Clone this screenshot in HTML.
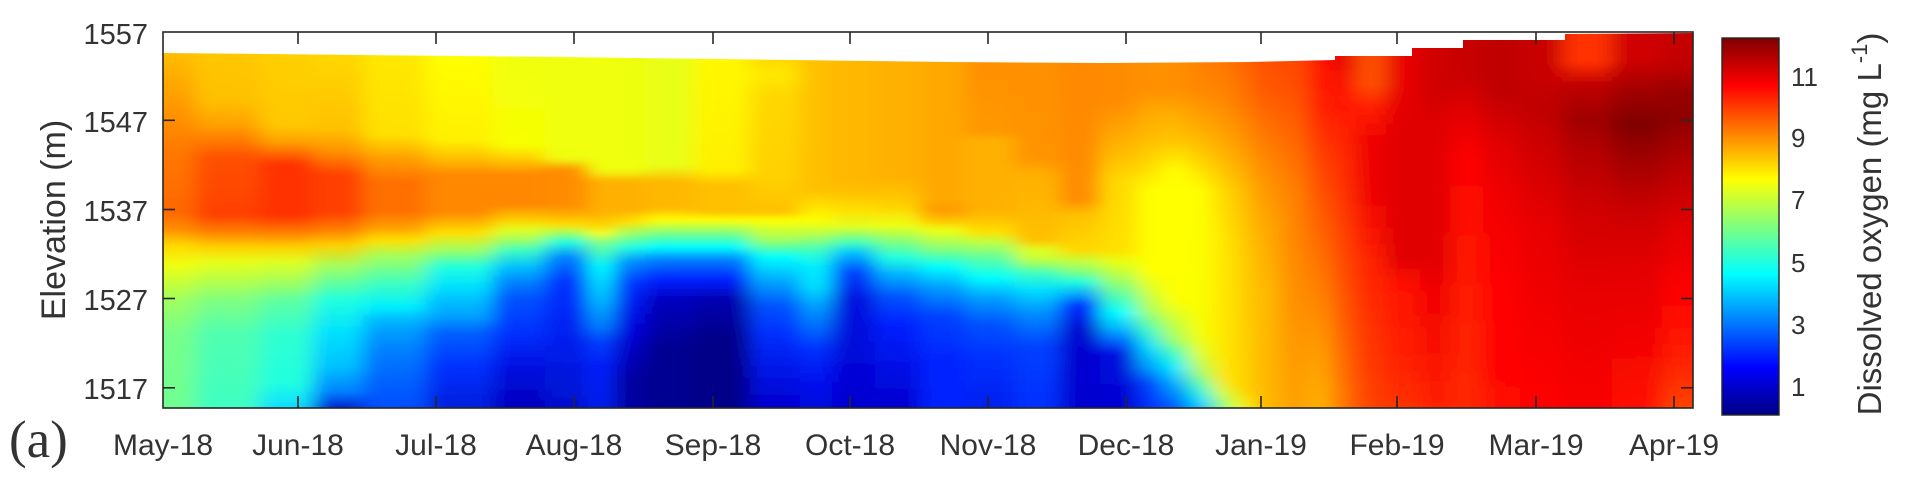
<!DOCTYPE html>
<html><head><meta charset="utf-8"><style>
html,body{margin:0;padding:0;background:#fff;}
svg{display:block;}
text{font-family:"Liberation Sans",Arial,sans-serif;fill:#333;}
</style></head><body>
<svg width="1919" height="500" viewBox="0 0 1919 500" xmlns="http://www.w3.org/2000/svg">
<defs>
<filter id="bl" filterUnits="userSpaceOnUse" x="80" y="-20" width="1700" height="480"><feGaussianBlur stdDeviation="10 2"/></filter>
<clipPath id="cp"><path d="M163,53 L560,57 L950,62 L1100,63 L1250,62 L1335,60 L1335,56 L1412,56 L1412,48 L1463,48 L1463,40 L1565,40 L1565,34 L1693,33 L1693,408 L163,408 Z"/></clipPath>
<linearGradient id="cb" x1="0" y1="0" x2="0" y2="1"><stop offset="0" stop-color="#800000"/><stop offset=".125" stop-color="#ff0000"/><stop offset=".375" stop-color="#ffff00"/><stop offset=".625" stop-color="#00ffff"/><stop offset=".875" stop-color="#0000ff"/><stop offset="1" stop-color="#000084"/></linearGradient>
<linearGradient id="g1" gradientUnits="userSpaceOnUse" x1="0" y1="0" x2="0" y2="1000"><stop offset=".050" stop-color="#ffc000"/><stop offset=".105" stop-color="#ff9800"/><stop offset=".152" stop-color="#ff7800"/><stop offset=".212" stop-color="#ff6800"/><stop offset=".230" stop-color="#ff9000"/><stop offset=".245" stop-color="#ffd800"/><stop offset=".265" stop-color="#f0ff10"/><stop offset=".300" stop-color="#a0ff60"/><stop offset=".333" stop-color="#78ff88"/><stop offset=".400" stop-color="#70ff90"/></linearGradient>
<linearGradient id="g2" gradientUnits="userSpaceOnUse" x1="0" y1="0" x2="0" y2="1000"><stop offset=".050" stop-color="#ffc800"/><stop offset=".100" stop-color="#ffc000"/><stop offset=".125" stop-color="#ffa000"/><stop offset=".158" stop-color="#ff5000"/><stop offset=".215" stop-color="#ff4000"/><stop offset=".232" stop-color="#ff8000"/><stop offset=".247" stop-color="#ffd000"/><stop offset=".262" stop-color="#e8ff18"/><stop offset=".283" stop-color="#b0ff50"/><stop offset=".300" stop-color="#80ff80"/><stop offset=".333" stop-color="#50ffb0"/><stop offset=".400" stop-color="#40ffc0"/></linearGradient>
<linearGradient id="g3" gradientUnits="userSpaceOnUse" x1="0" y1="0" x2="0" y2="1000"><stop offset=".050" stop-color="#ffd000"/><stop offset=".125" stop-color="#ffc800"/><stop offset=".142" stop-color="#ffa000"/><stop offset=".165" stop-color="#ff3000"/><stop offset=".215" stop-color="#ff3000"/><stop offset=".233" stop-color="#ff8000"/><stop offset=".247" stop-color="#ffd000"/><stop offset=".262" stop-color="#e0ff20"/><stop offset=".283" stop-color="#a0ff60"/><stop offset=".300" stop-color="#60ffa0"/><stop offset=".333" stop-color="#30ffd0"/><stop offset=".383" stop-color="#20ffe0"/><stop offset=".405" stop-color="#10e0ff"/></linearGradient>
<linearGradient id="g4" gradientUnits="userSpaceOnUse" x1="0" y1="0" x2="0" y2="1000"><stop offset=".050" stop-color="#ffd800"/><stop offset=".130" stop-color="#ffc000"/><stop offset=".152" stop-color="#ff9000"/><stop offset=".175" stop-color="#ff4000"/><stop offset=".212" stop-color="#ff4000"/><stop offset=".230" stop-color="#ff8000"/><stop offset=".245" stop-color="#ffd000"/><stop offset=".267" stop-color="#a0ff60"/><stop offset=".300" stop-color="#20ffe0"/><stop offset=".333" stop-color="#00e0ff"/><stop offset=".367" stop-color="#00c0ff"/><stop offset=".392" stop-color="#0080ff"/><stop offset=".408" stop-color="#0020d0"/></linearGradient>
<linearGradient id="g5" gradientUnits="userSpaceOnUse" x1="0" y1="0" x2="0" y2="1000"><stop offset=".052" stop-color="#ffe800"/><stop offset=".135" stop-color="#ffe000"/><stop offset=".158" stop-color="#ffa000"/><stop offset=".182" stop-color="#ff7000"/><stop offset=".212" stop-color="#ff7000"/><stop offset=".228" stop-color="#ffa000"/><stop offset=".240" stop-color="#ffe000"/><stop offset=".257" stop-color="#a0ff60"/><stop offset=".283" stop-color="#40ffc0"/><stop offset=".307" stop-color="#00f0ff"/><stop offset=".318" stop-color="#00c0ff"/><stop offset=".330" stop-color="#00a0ff"/><stop offset=".350" stop-color="#0080ff"/><stop offset=".383" stop-color="#0060ff"/><stop offset=".405" stop-color="#0050ff"/></linearGradient>
<linearGradient id="g6" gradientUnits="userSpaceOnUse" x1="0" y1="0" x2="0" y2="1000"><stop offset=".053" stop-color="#ffff00"/><stop offset=".140" stop-color="#fff000"/><stop offset=".158" stop-color="#ffc000"/><stop offset=".175" stop-color="#ff8800"/><stop offset=".212" stop-color="#ff8800"/><stop offset=".233" stop-color="#ffe000"/><stop offset=".250" stop-color="#a0ff60"/><stop offset=".267" stop-color="#20ffe0"/><stop offset=".287" stop-color="#00e0ff"/><stop offset=".300" stop-color="#00c0ff"/><stop offset=".317" stop-color="#00a0ff"/><stop offset=".333" stop-color="#0060ff"/><stop offset=".367" stop-color="#0030ff"/><stop offset=".405" stop-color="#0020e0"/></linearGradient>
<linearGradient id="g7" gradientUnits="userSpaceOnUse" x1="0" y1="0" x2="0" y2="1000"><stop offset=".055" stop-color="#f0ff10"/><stop offset=".145" stop-color="#f8ff00"/><stop offset=".158" stop-color="#ffd000"/><stop offset=".175" stop-color="#ff8800"/><stop offset=".205" stop-color="#ff8800"/><stop offset=".220" stop-color="#ffd000"/><stop offset=".230" stop-color="#e0ff20"/><stop offset=".240" stop-color="#a0ff60"/><stop offset=".250" stop-color="#40ffc0"/><stop offset=".267" stop-color="#00c0ff"/><stop offset=".283" stop-color="#0080ff"/><stop offset=".300" stop-color="#0050ff"/><stop offset=".333" stop-color="#0030ff"/><stop offset=".367" stop-color="#0010e0"/><stop offset=".405" stop-color="#0000c0"/></linearGradient>
<linearGradient id="g8" gradientUnits="userSpaceOnUse" x1="0" y1="0" x2="0" y2="1000"><stop offset=".056" stop-color="#f0ff10"/><stop offset=".158" stop-color="#f0ff10"/><stop offset=".170" stop-color="#ff8c00"/><stop offset=".205" stop-color="#ff8c00"/><stop offset=".215" stop-color="#ffb000"/><stop offset=".225" stop-color="#ffe000"/><stop offset=".233" stop-color="#a0ff60"/><stop offset=".242" stop-color="#20ffe0"/><stop offset=".258" stop-color="#0080ff"/><stop offset=".283" stop-color="#0030ff"/><stop offset=".333" stop-color="#0020f0"/><stop offset=".405" stop-color="#0010d0"/></linearGradient>
<linearGradient id="g9" gradientUnits="userSpaceOnUse" x1="0" y1="0" x2="0" y2="1000"><stop offset=".057" stop-color="#f0ff10"/><stop offset=".170" stop-color="#f0ff10"/><stop offset=".182" stop-color="#ffb000"/><stop offset=".212" stop-color="#ffb000"/><stop offset=".225" stop-color="#ffd000"/><stop offset=".233" stop-color="#ffff00"/><stop offset=".243" stop-color="#80ff80"/><stop offset=".267" stop-color="#00ffff"/><stop offset=".300" stop-color="#00c0ff"/><stop offset=".327" stop-color="#0080ff"/><stop offset=".343" stop-color="#0040ff"/><stop offset=".367" stop-color="#0020ff"/><stop offset=".405" stop-color="#0020f0"/></linearGradient>
<linearGradient id="g10" gradientUnits="userSpaceOnUse" x1="0" y1="0" x2="0" y2="1000"><stop offset=".057" stop-color="#f0ff10"/><stop offset=".170" stop-color="#f0ff10"/><stop offset=".182" stop-color="#ffb000"/><stop offset=".210" stop-color="#ffb000"/><stop offset=".222" stop-color="#ffe000"/><stop offset=".233" stop-color="#a0ff60"/><stop offset=".247" stop-color="#20ffe0"/><stop offset=".262" stop-color="#0090ff"/><stop offset=".285" stop-color="#0030ff"/><stop offset=".330" stop-color="#0000e0"/><stop offset=".380" stop-color="#0000a0"/></linearGradient>
<linearGradient id="g11" gradientUnits="userSpaceOnUse" x1="0" y1="0" x2="0" y2="1000"><stop offset=".058" stop-color="#e8ff18"/><stop offset=".165" stop-color="#e8ff18"/><stop offset=".182" stop-color="#ffb800"/><stop offset=".208" stop-color="#ffb800"/><stop offset=".220" stop-color="#ffff00"/><stop offset=".233" stop-color="#80ff80"/><stop offset=".247" stop-color="#00ffff"/><stop offset=".260" stop-color="#0080ff"/><stop offset=".280" stop-color="#0020ff"/><stop offset=".300" stop-color="#0000c0"/><stop offset=".350" stop-color="#000090"/></linearGradient>
<linearGradient id="g12" gradientUnits="userSpaceOnUse" x1="0" y1="0" x2="0" y2="1000"><stop offset=".059" stop-color="#fff800"/><stop offset=".170" stop-color="#fff000"/><stop offset=".185" stop-color="#ffc000"/><stop offset=".212" stop-color="#ffc000"/><stop offset=".220" stop-color="#ffff00"/><stop offset=".233" stop-color="#80ff80"/><stop offset=".247" stop-color="#00ffff"/><stop offset=".260" stop-color="#0080ff"/><stop offset=".280" stop-color="#0020ff"/><stop offset=".300" stop-color="#0000b0"/><stop offset=".340" stop-color="#000088"/></linearGradient>
<linearGradient id="g13" gradientUnits="userSpaceOnUse" x1="0" y1="0" x2="0" y2="1000"><stop offset=".059" stop-color="#ffd800"/><stop offset=".075" stop-color="#ffe800"/><stop offset=".095" stop-color="#ffd800"/><stop offset=".180" stop-color="#ffd000"/><stop offset=".212" stop-color="#ffc000"/><stop offset=".220" stop-color="#ffff00"/><stop offset=".240" stop-color="#a0ff60"/><stop offset=".257" stop-color="#00ffff"/><stop offset=".283" stop-color="#00a0ff"/><stop offset=".307" stop-color="#0050ff"/><stop offset=".333" stop-color="#0030ff"/><stop offset=".380" stop-color="#0010e0"/><stop offset=".405" stop-color="#0000d0"/></linearGradient>
<linearGradient id="g14" gradientUnits="userSpaceOnUse" x1="0" y1="0" x2="0" y2="1000"><stop offset=".060" stop-color="#ffc000"/><stop offset=".190" stop-color="#ffc000"/><stop offset=".205" stop-color="#ffe000"/><stop offset=".220" stop-color="#ffff00"/><stop offset=".233" stop-color="#c0ff40"/><stop offset=".250" stop-color="#40ffc0"/><stop offset=".267" stop-color="#00f0ff"/><stop offset=".287" stop-color="#00e0ff"/><stop offset=".307" stop-color="#00a0ff"/><stop offset=".333" stop-color="#0060ff"/><stop offset=".350" stop-color="#0030ff"/><stop offset=".383" stop-color="#0010f0"/><stop offset=".405" stop-color="#0010e0"/></linearGradient>
<linearGradient id="g15" gradientUnits="userSpaceOnUse" x1="0" y1="0" x2="0" y2="1000"><stop offset=".060" stop-color="#ffb800"/><stop offset=".180" stop-color="#ffb800"/><stop offset=".192" stop-color="#ffc000"/><stop offset=".210" stop-color="#ffe000"/><stop offset=".227" stop-color="#e0ff20"/><stop offset=".243" stop-color="#40ffc0"/><stop offset=".253" stop-color="#00c0ff"/><stop offset=".273" stop-color="#0040ff"/><stop offset=".300" stop-color="#0010e0"/><stop offset=".405" stop-color="#0000d0"/></linearGradient>
<linearGradient id="g16" gradientUnits="userSpaceOnUse" x1="0" y1="0" x2="0" y2="1000"><stop offset=".061" stop-color="#ffb000"/><stop offset=".175" stop-color="#ffb000"/><stop offset=".192" stop-color="#ffc000"/><stop offset=".205" stop-color="#ffd000"/><stop offset=".225" stop-color="#f0ff10"/><stop offset=".242" stop-color="#80ff80"/><stop offset=".258" stop-color="#20ffe0"/><stop offset=".275" stop-color="#00b0ff"/><stop offset=".298" stop-color="#0050ff"/><stop offset=".325" stop-color="#0020ff"/><stop offset=".405" stop-color="#0000d0"/></linearGradient>
<linearGradient id="g17" gradientUnits="userSpaceOnUse" x1="0" y1="0" x2="0" y2="1000"><stop offset=".062" stop-color="#ffa800"/><stop offset=".200" stop-color="#ffa800"/><stop offset=".210" stop-color="#ff9800"/><stop offset=".220" stop-color="#ffc000"/><stop offset=".230" stop-color="#f0ff10"/><stop offset=".250" stop-color="#80ff80"/><stop offset=".267" stop-color="#00ffff"/><stop offset=".287" stop-color="#00a0ff"/><stop offset=".317" stop-color="#0040ff"/><stop offset=".367" stop-color="#0020ff"/><stop offset=".405" stop-color="#0020ff"/></linearGradient>
<linearGradient id="g18" gradientUnits="userSpaceOnUse" x1="0" y1="0" x2="0" y2="1000"><stop offset=".062" stop-color="#ff9000"/><stop offset=".132" stop-color="#ff9800"/><stop offset=".140" stop-color="#ffb000"/><stop offset=".208" stop-color="#ffb000"/><stop offset=".218" stop-color="#ffc000"/><stop offset=".232" stop-color="#ffe000"/><stop offset=".242" stop-color="#c0ff40"/><stop offset=".258" stop-color="#60ffa0"/><stop offset=".278" stop-color="#00ffff"/><stop offset=".298" stop-color="#00a0ff"/><stop offset=".325" stop-color="#0050ff"/><stop offset=".358" stop-color="#0030ff"/><stop offset=".405" stop-color="#0020f0"/></linearGradient>
<linearGradient id="g19" gradientUnits="userSpaceOnUse" x1="0" y1="0" x2="0" y2="1000"><stop offset=".063" stop-color="#ff9000"/><stop offset=".158" stop-color="#ff9400"/><stop offset=".175" stop-color="#ffb000"/><stop offset=".240" stop-color="#ffc000"/><stop offset=".250" stop-color="#e0ff20"/><stop offset=".260" stop-color="#c0ff40"/><stop offset=".273" stop-color="#40ffc0"/><stop offset=".290" stop-color="#00e0ff"/><stop offset=".313" stop-color="#0090ff"/><stop offset=".347" stop-color="#0040ff"/><stop offset=".405" stop-color="#0030ff"/></linearGradient>
<linearGradient id="g20" gradientUnits="userSpaceOnUse" x1="0" y1="0" x2="0" y2="1000"><stop offset=".063" stop-color="#ff8800"/><stop offset=".200" stop-color="#ff8c00"/><stop offset=".215" stop-color="#ffc000"/><stop offset=".250" stop-color="#ffd800"/><stop offset=".262" stop-color="#c0ff40"/><stop offset=".272" stop-color="#80ff80"/><stop offset=".282" stop-color="#20ffe0"/><stop offset=".297" stop-color="#0090ff"/><stop offset=".307" stop-color="#0020ff"/><stop offset=".330" stop-color="#0000d0"/></linearGradient>
<linearGradient id="g21" gradientUnits="userSpaceOnUse" x1="0" y1="0" x2="0" y2="1000"><stop offset=".063" stop-color="#ff8c00"/><stop offset=".102" stop-color="#ff8c00"/><stop offset=".125" stop-color="#ffa000"/><stop offset=".158" stop-color="#ffc000"/><stop offset=".180" stop-color="#ffd800"/><stop offset=".250" stop-color="#ffe000"/><stop offset=".262" stop-color="#e8ff10"/><stop offset=".280" stop-color="#a0ff60"/><stop offset=".300" stop-color="#40ffc0"/><stop offset=".313" stop-color="#00ffff"/><stop offset=".327" stop-color="#00c0ff"/><stop offset=".340" stop-color="#0070ff"/><stop offset=".355" stop-color="#0010e0"/><stop offset=".405" stop-color="#0000d0"/></linearGradient>
<linearGradient id="g22" gradientUnits="userSpaceOnUse" x1="0" y1="0" x2="0" y2="1000"><stop offset=".063" stop-color="#ff9000"/><stop offset=".090" stop-color="#ff9000"/><stop offset=".110" stop-color="#ffa800"/><stop offset=".142" stop-color="#ffc000"/><stop offset=".170" stop-color="#ffe000"/><stop offset=".190" stop-color="#ffff00"/><stop offset=".273" stop-color="#ffff00"/><stop offset=".287" stop-color="#e0ff20"/><stop offset=".313" stop-color="#a0ff60"/><stop offset=".330" stop-color="#40ffc0"/><stop offset=".347" stop-color="#00e0ff"/><stop offset=".367" stop-color="#00a0ff"/><stop offset=".385" stop-color="#0040ff"/><stop offset=".405" stop-color="#0030ff"/></linearGradient>
<linearGradient id="g23" gradientUnits="userSpaceOnUse" x1="0" y1="0" x2="0" y2="1000"><stop offset=".063" stop-color="#ff9000"/><stop offset=".090" stop-color="#ff9000"/><stop offset=".110" stop-color="#ffa800"/><stop offset=".142" stop-color="#ffc800"/><stop offset=".170" stop-color="#ffff00"/><stop offset=".300" stop-color="#ffff00"/><stop offset=".313" stop-color="#e0ff20"/><stop offset=".340" stop-color="#a0ff60"/><stop offset=".353" stop-color="#40ffc0"/><stop offset=".367" stop-color="#00f0ff"/><stop offset=".387" stop-color="#00a0ff"/><stop offset=".405" stop-color="#0060ff"/></linearGradient>
<linearGradient id="g24" gradientUnits="userSpaceOnUse" x1="0" y1="0" x2="0" y2="1000"><stop offset=".063" stop-color="#ff8000"/><stop offset=".090" stop-color="#ff8800"/><stop offset=".125" stop-color="#ffa800"/><stop offset=".158" stop-color="#ffd000"/><stop offset=".190" stop-color="#ffff00"/><stop offset=".330" stop-color="#f8ff00"/><stop offset=".353" stop-color="#e0ff20"/><stop offset=".373" stop-color="#a0ff60"/><stop offset=".387" stop-color="#40ffc0"/><stop offset=".400" stop-color="#00e0ff"/><stop offset=".408" stop-color="#00c0ff"/></linearGradient>
<linearGradient id="g25" gradientUnits="userSpaceOnUse" x1="0" y1="0" x2="0" y2="1000"><stop offset=".062" stop-color="#ff7800"/><stop offset=".100" stop-color="#ff8800"/><stop offset=".142" stop-color="#ffa800"/><stop offset=".190" stop-color="#ffd800"/><stop offset=".240" stop-color="#ffe800"/><stop offset=".380" stop-color="#ffe800"/><stop offset=".393" stop-color="#d0ff30"/><stop offset=".408" stop-color="#80ff80"/></linearGradient>
<linearGradient id="g26" gradientUnits="userSpaceOnUse" x1="0" y1="0" x2="0" y2="1000"><stop offset=".062" stop-color="#ff6800"/><stop offset=".100" stop-color="#ff7800"/><stop offset=".142" stop-color="#ff9800"/><stop offset=".192" stop-color="#ffc000"/><stop offset=".250" stop-color="#ffd000"/><stop offset=".390" stop-color="#ffd800"/><stop offset=".408" stop-color="#f0ff10"/></linearGradient>
<linearGradient id="g27" gradientUnits="userSpaceOnUse" x1="0" y1="0" x2="0" y2="1000"><stop offset=".062" stop-color="#ff5000"/><stop offset=".090" stop-color="#ff5800"/><stop offset=".125" stop-color="#ff7000"/><stop offset=".175" stop-color="#ff9000"/><stop offset=".225" stop-color="#ffa800"/><stop offset=".292" stop-color="#ffb800"/><stop offset=".405" stop-color="#ffb800"/></linearGradient>
<linearGradient id="g28" gradientUnits="userSpaceOnUse" x1="0" y1="0" x2="0" y2="1000"><stop offset=".061" stop-color="#ff4800"/><stop offset=".090" stop-color="#ff5000"/><stop offset=".125" stop-color="#ff6000"/><stop offset=".192" stop-color="#ff8000"/><stop offset=".300" stop-color="#ff9000"/><stop offset=".405" stop-color="#ffa000"/></linearGradient>
<linearGradient id="g29" gradientUnits="userSpaceOnUse" x1="0" y1="0" x2="0" y2="1000"><stop offset=".060" stop-color="#ff1000"/><stop offset=".110" stop-color="#ff2000"/><stop offset=".158" stop-color="#ff4000"/><stop offset=".225" stop-color="#ff6000"/><stop offset=".292" stop-color="#ff8000"/><stop offset=".358" stop-color="#ffa000"/><stop offset=".405" stop-color="#ffb000"/></linearGradient>
<linearGradient id="g30" gradientUnits="userSpaceOnUse" x1="0" y1="0" x2="0" y2="1000"><stop offset=".055" stop-color="#e00000"/><stop offset=".092" stop-color="#ff1000"/><stop offset=".125" stop-color="#ff2000"/><stop offset=".192" stop-color="#ff3000"/><stop offset=".292" stop-color="#ff5000"/><stop offset=".392" stop-color="#ff7000"/></linearGradient>
<linearGradient id="g31" gradientUnits="userSpaceOnUse" x1="0" y1="0" x2="0" y2="1000"><stop offset=".055" stop-color="#ff5000"/><stop offset=".085" stop-color="#ff5000"/><stop offset=".108" stop-color="#ff2000"/><stop offset=".142" stop-color="#f00000"/><stop offset=".192" stop-color="#f00000"/><stop offset=".258" stop-color="#ff2000"/><stop offset=".325" stop-color="#ff3000"/><stop offset=".405" stop-color="#ff4000"/></linearGradient>
<linearGradient id="g32" gradientUnits="userSpaceOnUse" x1="0" y1="0" x2="0" y2="1000"><stop offset=".048" stop-color="#e80000"/><stop offset=".092" stop-color="#e80000"/><stop offset=".125" stop-color="#e00000"/><stop offset=".258" stop-color="#e00000"/><stop offset=".285" stop-color="#ff1000"/><stop offset=".358" stop-color="#ff2000"/><stop offset=".405" stop-color="#ff3000"/></linearGradient>
<linearGradient id="g33" gradientUnits="userSpaceOnUse" x1="0" y1="0" x2="0" y2="1000"><stop offset=".042" stop-color="#d00000"/><stop offset=".092" stop-color="#d00000"/><stop offset=".125" stop-color="#e00000"/><stop offset=".258" stop-color="#e00000"/><stop offset=".292" stop-color="#f00000"/><stop offset=".405" stop-color="#ff2000"/></linearGradient>
<linearGradient id="g34" gradientUnits="userSpaceOnUse" x1="0" y1="0" x2="0" y2="1000"><stop offset=".040" stop-color="#c80000"/><stop offset=".075" stop-color="#c80000"/><stop offset=".108" stop-color="#e00000"/><stop offset=".158" stop-color="#ff0000"/><stop offset=".225" stop-color="#ff1000"/><stop offset=".325" stop-color="#ff2000"/><stop offset=".405" stop-color="#ff2800"/></linearGradient>
<linearGradient id="g35" gradientUnits="userSpaceOnUse" x1="0" y1="0" x2="0" y2="1000"><stop offset=".040" stop-color="#c00000"/><stop offset=".092" stop-color="#c00000"/><stop offset=".142" stop-color="#e00000"/><stop offset=".192" stop-color="#f00000"/><stop offset=".292" stop-color="#ff0000"/><stop offset=".405" stop-color="#ff0800"/></linearGradient>
<linearGradient id="g36" gradientUnits="userSpaceOnUse" x1="0" y1="0" x2="0" y2="1000"><stop offset=".040" stop-color="#c80000"/><stop offset=".075" stop-color="#c80000"/><stop offset=".108" stop-color="#c00000"/><stop offset=".175" stop-color="#d80000"/><stop offset=".225" stop-color="#e80000"/><stop offset=".292" stop-color="#f00000"/><stop offset=".405" stop-color="#ff0000"/></linearGradient>
<linearGradient id="g37" gradientUnits="userSpaceOnUse" x1="0" y1="0" x2="0" y2="1000"><stop offset=".034" stop-color="#ff3000"/><stop offset=".062" stop-color="#ff3000"/><stop offset=".085" stop-color="#c00000"/><stop offset=".118" stop-color="#a00000"/><stop offset=".158" stop-color="#b80000"/><stop offset=".208" stop-color="#d00000"/><stop offset=".292" stop-color="#e80000"/><stop offset=".405" stop-color="#f80000"/></linearGradient>
<linearGradient id="g38" gradientUnits="userSpaceOnUse" x1="0" y1="0" x2="0" y2="1000"><stop offset=".034" stop-color="#d00000"/><stop offset=".058" stop-color="#d00000"/><stop offset=".092" stop-color="#a00000"/><stop offset=".125" stop-color="#800000"/><stop offset=".158" stop-color="#a00000"/><stop offset=".208" stop-color="#c80000"/><stop offset=".258" stop-color="#e00000"/><stop offset=".325" stop-color="#f00000"/><stop offset=".405" stop-color="#ff1000"/></linearGradient>
<linearGradient id="g39" gradientUnits="userSpaceOnUse" x1="0" y1="0" x2="0" y2="1000"><stop offset=".034" stop-color="#c80000"/><stop offset=".065" stop-color="#c00000"/><stop offset=".092" stop-color="#980000"/><stop offset=".118" stop-color="#900000"/><stop offset=".158" stop-color="#b00000"/><stop offset=".225" stop-color="#e00000"/><stop offset=".292" stop-color="#ff0000"/><stop offset=".358" stop-color="#ff2000"/><stop offset=".405" stop-color="#ff4000"/></linearGradient>
</defs>

<g clip-path="url(#cp)">
<g filter="url(#bl)">
<rect x="100" y="0" width="96" height="440" fill="url(#g1)"/>
<rect x="195" y="0" width="66" height="440" fill="url(#g2)"/>
<rect x="260" y="0" width="54" height="440" fill="url(#g3)"/>
<rect x="313" y="0" width="51" height="440" fill="url(#g4)"/>
<rect x="363" y="0" width="64" height="440" fill="url(#g5)"/>
<rect x="426" y="0" width="68" height="440" fill="url(#g6)"/>
<rect x="493" y="0" width="53" height="440" fill="url(#g7)"/>
<rect x="545" y="0" width="44" height="440" fill="url(#g8)"/>
<rect x="588" y="0" width="27" height="440" fill="url(#g9)"/>
<rect x="614" y="0" width="32" height="440" fill="url(#g10)"/>
<rect x="645" y="0" width="50" height="440" fill="url(#g11)"/>
<rect x="694" y="0" width="57" height="440" fill="url(#g12)"/>
<rect x="750" y="0" width="51" height="440" fill="url(#g13)"/>
<rect x="800" y="0" width="33" height="440" fill="url(#g14)"/>
<rect x="832" y="0" width="44" height="440" fill="url(#g15)"/>
<rect x="875" y="0" width="46" height="440" fill="url(#g16)"/>
<rect x="920" y="0" width="46" height="440" fill="url(#g17)"/>
<rect x="965" y="0" width="51" height="440" fill="url(#g18)"/>
<rect x="1015" y="0" width="46" height="440" fill="url(#g19)"/>
<rect x="1060" y="0" width="41" height="440" fill="url(#g20)"/>
<rect x="1100" y="0" width="38" height="440" fill="url(#g21)"/>
<rect x="1137" y="0" width="26" height="440" fill="url(#g22)"/>
<rect x="1162" y="0" width="27" height="440" fill="url(#g23)"/>
<rect x="1188" y="0" width="25" height="440" fill="url(#g24)"/>
<rect x="1212" y="0" width="21" height="440" fill="url(#g25)"/>
<rect x="1232" y="0" width="21" height="440" fill="url(#g26)"/>
<rect x="1252" y="0" width="29" height="440" fill="url(#g27)"/>
<rect x="1280" y="0" width="29" height="440" fill="url(#g28)"/>
<rect x="1308" y="0" width="26" height="440" fill="url(#g29)"/>
<rect x="1333" y="0" width="24" height="440" fill="url(#g30)"/>
<rect x="1356" y="0" width="31" height="440" fill="url(#g31)"/>
<rect x="1386" y="0" width="35" height="440" fill="url(#g32)"/>
<rect x="1420" y="0" width="31" height="440" fill="url(#g33)"/>
<rect x="1450" y="0" width="34" height="440" fill="url(#g34)"/>
<rect x="1483" y="0" width="38" height="440" fill="url(#g35)"/>
<rect x="1520" y="0" width="43" height="440" fill="url(#g36)"/>
<rect x="1562" y="0" width="51" height="440" fill="url(#g37)"/>
<rect x="1612" y="0" width="51" height="440" fill="url(#g38)"/>
<rect x="1662" y="0" width="90" height="440" fill="url(#g39)"/>
</g>
</g>

<!-- axes box -->
<rect x="163" y="32" width="1530" height="376" fill="none" stroke="#262626" stroke-width="1.6"/>
<g stroke="#262626" stroke-width="1.6">
<line x1="163" y1="120.3" x2="175" y2="120.3"/><line x1="163" y1="209.5" x2="175" y2="209.5"/><line x1="163" y1="298.5" x2="175" y2="298.5"/><line x1="163" y1="387.8" x2="175" y2="387.8"/>
<line x1="1693" y1="120.3" x2="1681" y2="120.3"/><line x1="1693" y1="209.5" x2="1681" y2="209.5"/><line x1="1693" y1="298.5" x2="1681" y2="298.5"/><line x1="1693" y1="387.8" x2="1681" y2="387.8"/>
<line x1="298" y1="408" x2="298" y2="396"/><line x1="436" y1="408" x2="436" y2="396"/><line x1="574" y1="408" x2="574" y2="396"/><line x1="713" y1="408" x2="713" y2="396"/><line x1="850" y1="408" x2="850" y2="396"/><line x1="988" y1="408" x2="988" y2="396"/><line x1="1126" y1="408" x2="1126" y2="396"/><line x1="1261" y1="408" x2="1261" y2="396"/><line x1="1397" y1="408" x2="1397" y2="396"/><line x1="1536" y1="408" x2="1536" y2="396"/><line x1="1674" y1="408" x2="1674" y2="396"/>
<line x1="298" y1="32" x2="298" y2="44"/><line x1="436" y1="32" x2="436" y2="44"/><line x1="574" y1="32" x2="574" y2="44"/><line x1="713" y1="32" x2="713" y2="44"/><line x1="850" y1="32" x2="850" y2="44"/><line x1="988" y1="32" x2="988" y2="44"/><line x1="1126" y1="32" x2="1126" y2="44"/><line x1="1261" y1="32" x2="1261" y2="44"/><line x1="1397" y1="32" x2="1397" y2="44"/><line x1="1536" y1="32" x2="1536" y2="44"/><line x1="1674" y1="32" x2="1674" y2="44"/>
</g>

<!-- y tick labels -->
<g font-size="29" text-anchor="end">
<text x="148" y="44">1557</text>
<text x="148" y="132">1547</text>
<text x="148" y="221">1537</text>
<text x="148" y="310">1527</text>
<text x="148" y="399">1517</text>
</g>
<text transform="translate(65,220) rotate(-90)" font-size="34" text-anchor="middle">Elevation (m)</text>

<!-- x tick labels -->
<g font-size="30" text-anchor="middle">
<text x="163" y="455">May-18</text>
<text x="298" y="455">Jun-18</text>
<text x="436" y="455">Jul-18</text>
<text x="574" y="455">Aug-18</text>
<text x="713" y="455">Sep-18</text>
<text x="850" y="455">Oct-18</text>
<text x="988" y="455">Nov-18</text>
<text x="1126" y="455">Dec-18</text>
<text x="1261" y="455">Jan-19</text>
<text x="1397" y="455">Feb-19</text>
<text x="1536" y="455">Mar-19</text>
<text x="1674" y="455">Apr-19</text>
</g>
<text x="9" y="457" font-size="53" style="font-family:'Liberation Serif','Times New Roman',serif;">(a)</text>

<!-- colorbar -->
<rect x="1722" y="38" width="57" height="377" fill="url(#cb)" stroke="#262626" stroke-width="1.4"/>
<g font-size="26">
<text x="1791" y="86">11</text>
<text x="1791" y="147">9</text>
<text x="1791" y="209">7</text>
<text x="1791" y="272">5</text>
<text x="1791" y="334">3</text>
<text x="1791" y="396">1</text>
</g>
<text transform="translate(1881,224) rotate(-90)" font-size="33" text-anchor="middle">Dissolved oxygen (mg L<tspan font-size="22" dy="-14">-1</tspan><tspan dy="14">)</tspan></text>
</svg>
</body></html>
